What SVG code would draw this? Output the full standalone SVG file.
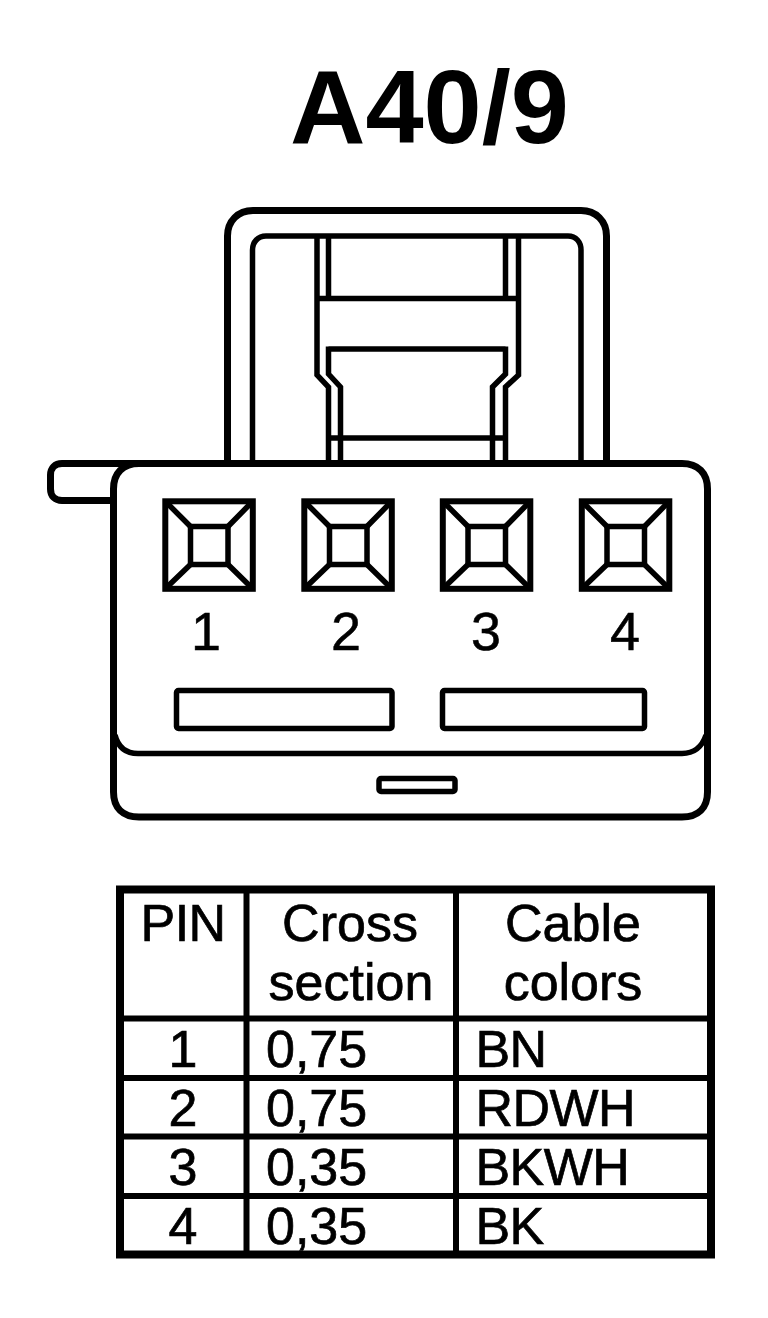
<svg xmlns="http://www.w3.org/2000/svg" width="768" height="1318" viewBox="0 0 768 1318">
<style>
.l{fill:none;stroke:#000;stroke-width:5.5;stroke-linejoin:miter}
.h{fill:none;stroke:#000;stroke-width:7}
.t{font-family:"Liberation Sans",Arial,sans-serif;fill:#000}
.n{font-size:54px;stroke:#000;stroke-width:.5}
.c{font-size:52px;stroke:#000;stroke-width:.7}
.m{text-anchor:middle}
.s{letter-spacing:-.6px}
</style>
<defs>
<g id="socket">
<rect x="2.800" y="2.800" width="87.500" height="87.500" style="fill:none;stroke:#000;stroke-width:6"/>
<rect x="28" y="28" width="37.500" height="38" class="l"/>
<path d="M2.500 2.500L28 28M90.500 2.500L65.500 28M2.500 90.500L28 66M90.500 90.500L65.500 66" class="l"/>
</g>
</defs>
<rect width="768" height="1318" fill="#fff"/>
<g id="title"><text x="290" y="143" class="t" font-size="104.500" font-weight="700">A40/9</text></g>
<g id="latch">
<path d="M227.500 463.500V236C227.500 221 238 210.500 253 210.500H581C596 210.500 606.500 221 606.500 236V463.500" class="h"/>
<path d="M252.500 463.500V250C252.500 242 258 236 266 236H568C576 236 581 242 581 250V463.500" class="l"/>
<path d="M317 236V375L328.500 387V463.500M518.500 236V375L505.500 387V463.500M317 298.500H518.500M328.500 236V298.500M505.500 236V298.500" class="l"/>
<path d="M328.500 349H505.500M328.500 346.500V374L340.500 387V463.500M505.500 346.500V374L492.500 387V463.500M328.500 438H505.500" class="l"/>
</g>
<g id="body">
<path d="M110 500.500H62C55 500.500 50.500 496 50.500 489V475C50.500 468 55 463.500 62 463.500H682C698 463.500 707.500 473 707.500 489V792C707.500 808 698 817 682 817H139C123 817 113.500 808 113.500 792V489C113.500 473 123 463.500 139 463.500" class="h"/>
<path d="M115 735C118 747 126 753.500 138 753.500H682C694 753.500 702 747 706 735" class="l"/>
<rect x="176.500" y="690.500" width="215.500" height="38" rx="2" class="l"/>
<rect x="442.500" y="690.500" width="202" height="38" rx="2" class="l"/>
<rect x="379" y="778.500" width="76" height="13" rx="2" class="l"/>
</g>
<g id="pin1"><use href="#socket" x="162.500" y="498.500"/><text x="206" y="649.500" class="t n m">1</text></g>
<g id="pin2"><use href="#socket" x="301.500" y="498.500"/><text x="346" y="649.500" class="t n m">2</text></g>
<g id="pin3"><use href="#socket" x="440" y="498.500"/><text x="486" y="649.500" class="t n m">3</text></g>
<g id="pin4"><use href="#socket" x="579" y="498.500"/><text x="625" y="649.500" class="t n m">4</text></g>
<g id="table">
<rect x="120" y="889.500" width="591" height="365" style="fill:none;stroke:#000;stroke-width:8"/>
<path d="M246.500 889.500V1254.500M456 889.500V1254.500M120 1018.500H711M120 1078H711M120 1136.500H711M120 1196H711" style="fill:none;stroke:#000;stroke-width:6"/>
<text x="183" y="941" class="t c m s">PIN</text>
<text x="350" y="941" class="t c m">Cross</text>
<text x="351" y="1000" class="t c m">section</text>
<text x="573" y="941" class="t c m">Cable</text>
<text x="573" y="1000" class="t c m">colors</text>
<text x="183" y="1066.500" class="t c m">1</text>
<text x="183" y="1126" class="t c m">2</text>
<text x="183" y="1185" class="t c m">3</text>
<text x="183" y="1244" class="t c m">4</text>
<text x="266" y="1066.500" class="t c">0,75</text>
<text x="266" y="1126" class="t c">0,75</text>
<text x="266" y="1185" class="t c">0,35</text>
<text x="266" y="1244" class="t c">0,35</text>
<text x="475.500" y="1066.500" class="t c s">BN</text>
<text x="475.500" y="1126" class="t c s">RDWH</text>
<text x="475.500" y="1185" class="t c s">BKWH</text>
<text x="475.500" y="1244" class="t c s">BK</text>
</g>
</svg>
